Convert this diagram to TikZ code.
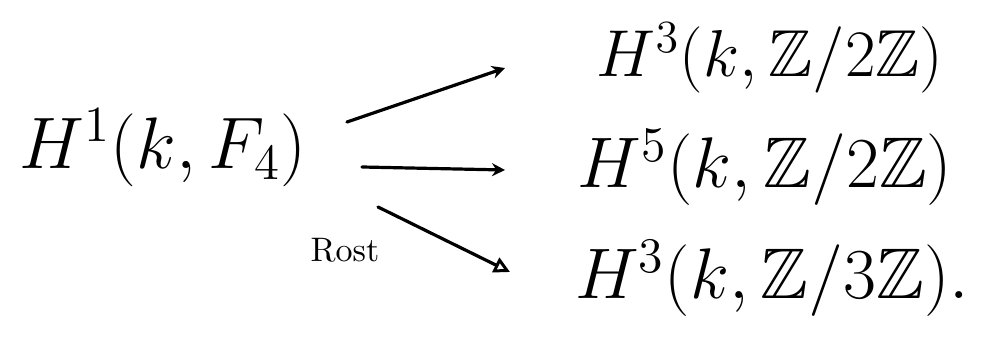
\documentclass[tikz,border=0pt]{standalone}
\usepackage{amsmath,amssymb}
\usetikzlibrary{arrows.meta}
\begin{document}
\begin{tikzpicture}[x=1pt,y=-1pt,
  big/.style={inner sep=0pt, font=\huge, scale=3.2},
  arr/.style={line width=3.2pt, line cap=round, -{Stealth[length=13pt,width=13pt]}},
  arropen/.style={line width=3.2pt, line cap=round, -{Triangle[open,length=16pt,width=16pt,line width=3pt]}},
  lbl/.style={inner sep=0pt, scale=3.4}]
\useasboundingbox (0,0) rectangle (985,344);
\node[big, scale=1.1] (src) at (163,148) {$H^{1}(k,F_4)$};
\node[big] (t1) at (770,58) {$H^{3}(k,\mathbb{Z}/2\mathbb{Z})$};
\node[big, scale=1.08] (t2) at (765,167) {$H^{5}(k,\mathbb{Z}/2\mathbb{Z})$};
\node[big, scale=1.08] (t3) at (772,278) {$H^{3}(k,\mathbb{Z}/3\mathbb{Z}).$};
\coordinate (s1) at (347,122);
\coordinate (e1) at (505,68);
\coordinate (s2) at (362,167);
\coordinate (e2) at (505,170);
\coordinate (s3) at (378,207);
\coordinate (e3) at (510,272);
\draw[arr] (s1) -- (e1);
\draw[arr] (s2) -- (e2);
\draw[arropen] (s3) -- (e3);
\node[lbl] (rost) at (345,250) {Rost};
\end{tikzpicture}
\end{document}
